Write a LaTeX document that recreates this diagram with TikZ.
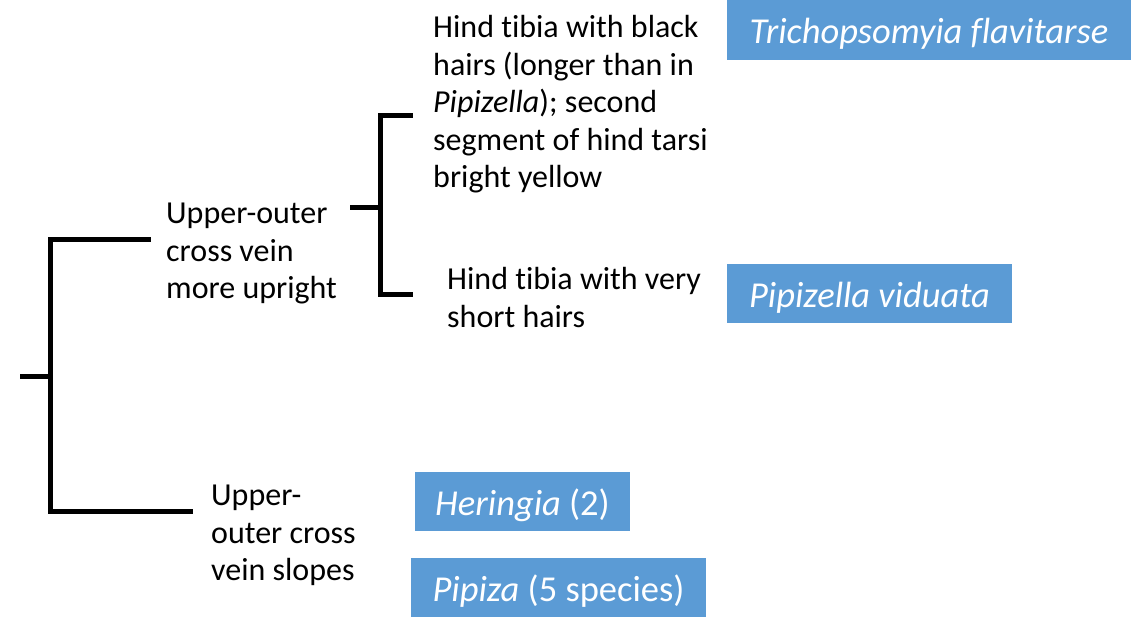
\documentclass[tikz,border=0pt]{standalone}
\usepackage{fontspec}
\setmainfont[Ligatures=NoCommon]{Carlito}
\definecolor{boxblue}{HTML}{5B9BD5}
\tikzset{
  txt/.style={anchor=north west,inner sep=0pt,align=left,font=\fontsize{32}{37.6}\selectfont},
  taxon/.style={fill=boxblue,text=white,inner sep=0pt,text height=30pt,text depth=2.5pt,font=\fontsize{36.5}{40}\selectfont},
  brk/.style={line width=5pt,line cap=rect,line join=miter}
}
\begin{document}
\begin{tikzpicture}[x=1pt,y=-1pt]
\useasboundingbox (0,0) rectangle (1135,618);
% bracket 1
\coordinate (r0) at (20,376);
\coordinate (r1) at (50,376);
\coordinate (r1t) at (50,239);
\coordinate (r1b) at (50,511);
\coordinate (a) at (148,239);
\coordinate (b) at (190,511);
\draw[brk,line cap=butt] (r0) -- (r1);
\draw[brk] (a) -- (r1t) -- (r1b) -- (b);
% bracket 2
\coordinate (s0) at (350,207);
\coordinate (s1) at (380,207);
\coordinate (s1t) at (380,115);
\coordinate (s1b) at (380,294);
\coordinate (c) at (410,115);
\coordinate (d) at (410,294);
\draw[brk,line cap=butt] (s0) -- (s1);
\draw[brk] (c) -- (s1t) -- (s1b) -- (d);
% texts
\node[txt] (up) at (166,203) {Upper-outer\\cross vein\\more upright};
\node[txt] (hb) at (433,15) {Hind tibia with black\\hairs (longer than in\\\textit{Pipizella}); second\\segment of hind tarsi\\bright yellow};
\node[txt] (hv) at (447,267) {Hind tibia with very\\short hairs};
\node[txt] (sl) at (211,485) {Upper-\\outer cross\\vein slopes};
% taxa boxes
\node[taxon,minimum width=404pt,minimum height=60pt] (tf) at (929,30) {\textit{Trichopsomyia flavitarse}};
\node[taxon,minimum width=285pt,minimum height=59pt] (pv) at (869.5,293.5) {\textit{Pipizella viduata}};
\node[taxon,minimum width=215pt,minimum height=59pt] (he) at (522.5,501.5) {\textit{Heringia} (2)};
\node[taxon,minimum width=295pt,minimum height=59pt] (pp) at (558.5,587.5) {\textit{Pipiza} (5 species)};
\end{tikzpicture}
\end{document}
